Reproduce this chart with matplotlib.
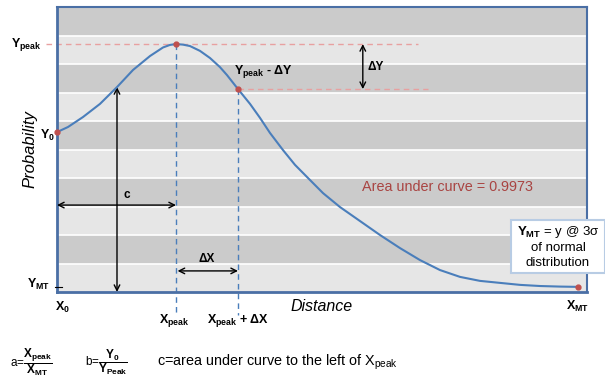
import matplotlib
matplotlib.use("Agg")
import matplotlib.pyplot as plt
from matplotlib.patches import Rectangle

plt.rcParams["font.family"] = ["Liberation Sans", "DejaVu Sans"]
plt.rcParams["mathtext.fontset"] = "custom"
plt.rcParams["mathtext.rm"] = "Liberation Sans"
plt.rcParams["mathtext.bf"] = "Liberation Sans:bold"
plt.rcParams["mathtext.it"] = "Liberation Sans:italic"

# curve (distance 0..100, probability 0..10 band units)
dist = [0, 2.08, 4.91, 8.11, 11.32, 14.34, 17.55, 20.0, 21.32, 22.45, 23.77,
        25.09, 26.98, 28.87, 30.75, 32.08, 34.15, 36.42, 38.30, 40.19, 42.64,
        44.91, 47.36, 50.19, 53.40, 57.17, 60.94, 64.72, 68.49, 72.26, 76.04,
        79.81, 83.58, 87.36, 91.13, 94.91, 98.30]
prob = [5.61, 5.79, 6.14, 6.60, 7.19, 7.79, 8.28, 8.58, 8.67, 8.70, 8.68,
        8.63, 8.46, 8.21, 7.89, 7.61, 7.12, 6.60, 6.11, 5.58, 4.98,
        4.46, 4.00, 3.47, 2.98, 2.49, 2.00, 1.54, 1.12, 0.77, 0.53,
        0.39, 0.32, 0.25, 0.21, 0.19, 0.18]

x0, y0 = 0, 5.61
x_peak, y_peak = 22.45, 8.70
x_dx, y_dy = 34.15, 7.12
x_mt, y_mt = 98.3, 0.18
x_c, y_c = 11.32, 7.19
n_bands = 10

blue = "#4a7ebb"
red = "#c0504d"
pink = "#e8a0a0"
spine = "#4a6fa5"

fig = plt.figure(figsize=(6.05, 3.8), dpi=100)
ax = fig.add_axes([57 / 605, 88 / 380, 530 / 605, 285 / 380])
ax.set_xlim(0, 100)
ax.set_ylim(0, 10)

for k in range(n_bands):
    ax.axhspan(k, k + 1, color="#cbcbcb" if k % 2 else "#e6e6e6", lw=0, zorder=0)
for k in range(1, n_bands):
    ax.axhline(k, color="white", lw=1.2, zorder=0.5)

for s in ax.spines.values():
    s.set_color(spine)
    s.set_linewidth(1.5)
ax.spines["left"].set_linewidth(2)
ax.spines["bottom"].set_linewidth(2)
ax.set_xticks([])
ax.set_yticks([])

# guide lines
ax.plot([-2.1, 68.1], [y_peak, y_peak], color=pink, lw=1, ls=(0, (4, 3)), clip_on=False, zorder=2)
ax.plot([x_dx, 70.0], [y_dy, y_dy], color=pink, lw=1, ls=(0, (4, 3)), zorder=2)
ax.plot([x_peak, x_peak], [y_peak, -0.74], color=blue, lw=1, ls=(0, (4, 3)), clip_on=False, zorder=2)
ax.plot([x_dx, x_dx], [y_dy, -0.81], color=blue, lw=1, ls=(0, (4, 3)), clip_on=False, zorder=2)
ax.plot([-0.4, 0.9], [y_mt, y_mt], color="black", lw=0.8, clip_on=False, zorder=3)

ax.plot(dist, prob, color=blue, lw=1.5, zorder=4, solid_joinstyle="round")
ax.plot([x0, x_peak, x_dx, x_mt], [y0, y_peak, y_dy, y_mt], "o", color=red, ms=3.5,
        clip_on=False, zorder=5)

arw = dict(arrowstyle="<->", color="black", lw=1, shrinkA=0, shrinkB=0)
ax.annotate("", xy=(57.7, y_peak), xytext=(57.7, y_dy), arrowprops=arw)
ax.annotate("", xy=(x_c, y_c), xytext=(x_c, 0), arrowprops=arw)
ax.annotate("", xy=(0, 3.05), xytext=(x_peak, 3.05), arrowprops=arw)
ax.annotate("", xy=(x_peak + 0.3, 0.74), xytext=(x_dx, 0.74), arrowprops=arw)

ax.text(58.6, 7.88, "ΔY", fontsize=8.5, weight="bold", va="center")
ax.text(12.6, 3.4, "c", fontsize=8.5, weight="bold", va="center")
ax.text(28.2, 1.16, "ΔX", fontsize=8.5, weight="bold", va="center", ha="center")
ax.text(x_dx - 0.8, 7.45, r"Y$_\mathbf{peak}$ - ΔY", fontsize=9, weight="bold", va="bottom")
ax.text(57.5, 3.68, "Area under curve = 0.9973", fontsize=10.4, color="#a94442", va="center")

ax.text(-3.0, y_peak, r"Y$_\mathbf{peak}$", fontsize=9, weight="bold", ha="right", va="center", clip_on=False)
ax.text(-0.3, y0 - 0.1, r"Y$_\mathbf{0}$", fontsize=9, weight="bold", ha="right", va="center")
ax.text(-1.3, 0.25, r"Y$_\mathbf{MT}$", fontsize=9, weight="bold", ha="right", va="center")
ax.text(-0.4, -0.55, r"X$_\mathbf{0}$", fontsize=9, weight="bold", ha="left", va="center")
ax.text(x_peak - 0.4, -1.0, r"X$_\mathbf{peak}$", fontsize=9, weight="bold", ha="center", va="center")
ax.text(x_dx, -1.0, r"X$_\mathbf{peak}$ + ΔX", fontsize=9, weight="bold", ha="center", va="center")
ax.text(x_mt, -0.5, r"X$_\mathbf{MT}$", fontsize=9, weight="bold", ha="center", va="center")
ax.text(50, -0.5, "Distance", fontsize=11.5, style="italic", ha="center", va="center")
ax.text(-5.1, 5.0, "Probability", fontsize=12, style="italic", rotation=90, ha="center", va="center")

# note box on the right
fig.add_artist(Rectangle((511 / 605, 107 / 380), 94 / 605, 53 / 380, transform=fig.transFigure,
                         fc="white", ec="#b8cce4", lw=1.5, zorder=6))
bx = 558 / 605
fig.text(bx, 148 / 380, r"$\mathbf{Y}_\mathbf{MT}$ = y @ 3σ", fontsize=9.5, ha="center", va="center", zorder=7)
fig.text(bx, 132 / 380, "of normal", fontsize=9.5, ha="center", va="center", zorder=7)
fig.text(bx, 117 / 380, "distribution", fontsize=9.5, ha="center", va="center", zorder=7)

# definitions underneath
fig.text(10 / 605, 18 / 380, r"a=$\dfrac{\mathbf{X}_\mathbf{peak}}{\mathbf{X}_\mathbf{MT}}$", fontsize=8.5, va="center")
fig.text(85 / 605, 18 / 380, r"b=$\dfrac{\mathbf{Y}_\mathbf{0}}{\mathbf{Y}_\mathbf{Peak}}$", fontsize=8.5, va="center")
fig.text(157 / 605, 18 / 380, r"c=area under curve to the left of X$_\mathrm{peak}$", fontsize=10.4, va="center")

fig.savefig("out.png", dpi=100)
